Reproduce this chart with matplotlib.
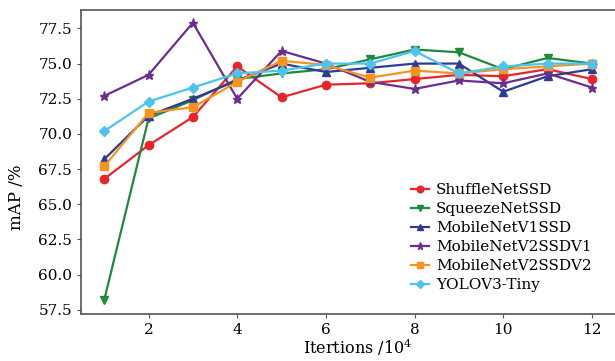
import matplotlib

matplotlib.use("Agg")
import matplotlib.pyplot as plt

plt.rcParams["font.family"] = ["DejaVu Serif"]
plt.rcParams["mathtext.fontset"] = "dejavuserif"

iterations = [1, 2, 3, 4, 5, 6, 7, 8, 9, 10, 11, 12]

shufflenet_ssd = [66.8, 69.2, 71.2, 74.8, 72.6, 73.5, 73.6, 73.9, 74.2, 74.1, 74.6, 73.9]
squeezenet_ssd = [58.2, 71.1, 72.4, 73.9, 74.3, 74.6, 75.3, 76.0, 75.8, 74.6, 75.4, 75.0]
mobilenetv1_ssd = [68.2, 71.3, 72.5, 73.8, 75.0, 74.4, 74.7, 75.0, 75.0, 73.0, 74.1, 74.6]
mobilenetv2_ssdv1 = [72.7, 74.2, 77.9, 72.5, 75.9, 75.0, 73.7, 73.2, 73.8, 73.6, 74.3, 73.3]
mobilenetv2_ssdv2 = [67.7, 71.5, 71.9, 73.7, 75.2, 74.9, 74.0, 74.5, 74.3, 74.6, 74.8, 75.0]
yolov3_tiny = [70.2, 72.3, 73.3, 74.3, 74.5, 75.0, 75.0, 75.9, 74.3, 74.8, 75.0, 75.0]

series = [
    ("ShuffleNetSSD", shufflenet_ssd, "#e8252b", "o", 6),
    ("SqueezeNetSSD", squeezenet_ssd, "#1d8a3c", "v", 5.5),
    ("MobileNetV1SSD", mobilenetv1_ssd, "#2c3b94", "^", 5.5),
    ("MobileNetV2SSDV1", mobilenetv2_ssdv1, "#6b2d91", "*", 6.5),
    ("MobileNetV2SSDV2", mobilenetv2_ssdv2, "#f7931e", "s", 5.5),
    ("YOLOV3-Tiny", yolov3_tiny, "#4cc4f0", "D", 5.5),
]

fig = plt.figure(figsize=(6.15, 3.61), dpi=100)
ax = fig.add_axes([0.132, 0.130, 0.87, 0.842])

for name, vals, color, marker, ms in series:
    ax.plot(iterations, vals, color=color, marker=marker, markersize=ms,
            linewidth=1.6, label=name)

ax.set_xlim(0.48, 12.55)
ax.set_ylim(57.2, 78.8)
ax.set_xticks([2, 4, 6, 8, 10, 12])
ax.set_yticks([57.5, 60.0, 62.5, 65.0, 67.5, 70.0, 72.5, 75.0, 77.5])
ax.set_yticklabels([f"{v:.1f}" for v in ax.get_yticks()])
ax.tick_params(labelsize=11, length=3, color="#555555")
for sp in ax.spines.values():
    sp.set_color("#555555")
    sp.set_linewidth(1.2)

ax.set_xlabel("Itertions /10$^4$", fontsize=11.5)
ax.xaxis.set_label_coords(0.516, -0.075)
ax.set_ylabel("mAP /%", fontsize=12)
ax.yaxis.set_label_coords(-0.105, 0.385)

ax.legend(loc="upper left", bbox_to_anchor=(411 / 615, 1 - 183 / 361),
          bbox_transform=fig.transFigure, frameon=False, fontsize=11,
          handlelength=1.2, handletextpad=0.45, labelspacing=0.33,
          borderaxespad=0, borderpad=0, markerscale=0.8)

fig.savefig("out.png", dpi=100)
